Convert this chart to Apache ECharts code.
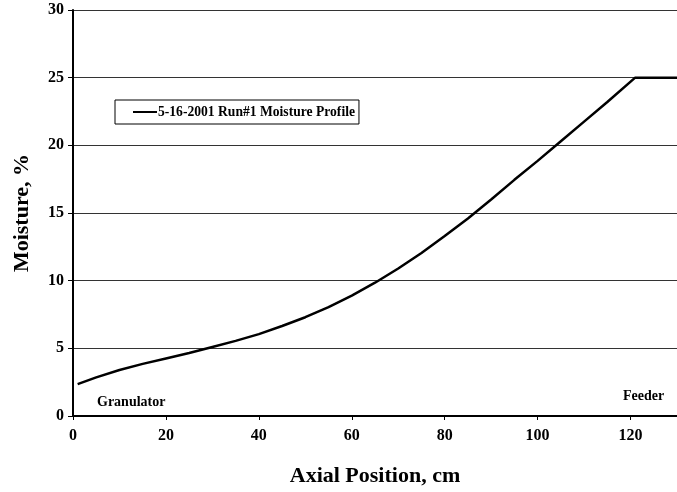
<!DOCTYPE html>
<html>
<head>
<meta charset="utf-8">
<script src="https://cdn.jsdelivr.net/npm/echarts@6/dist/echarts.min.js"></script>
<style>html,body{margin:0;padding:0;background:#fff;overflow:hidden;}#c{width:677px;height:492px;}</style>
</head>
<body>
<div id="c"></div>
<script>
const positions = [1, 5, 10, 15, 20, 25, 30, 35, 40, 45, 50, 55, 60, 65, 70, 75, 80, 85, 90, 95, 100, 105, 110, 115, 121, 130];
const moisture = [2.35, 2.85, 3.4, 3.85, 4.25, 4.65, 5.1, 5.55, 6.05, 6.65, 7.3, 8.05, 8.9, 9.85, 10.9, 12.05, 13.3, 14.6, 16.0, 17.45, 18.85, 20.3, 21.75, 23.2, 25, 25];
const seriesName = '5-16-2001 Run#1 Moisture Profile';
const xTitle = 'Axial Position, cm';
const yTitle = 'Moisture, %';
const leftNote = 'Granulator';
const rightNote = 'Feeder';

const serif = '"Liberation Serif", "Times New Roman", serif';
const chart = echarts.init(document.getElementById('c'), null, {renderer: 'canvas'});
chart.setOption({
  animation: false,
  backgroundColor: '#fff',
  grid: {left: 73, top: 10, width: 609, height: 409, containLabel: false},
  legend: {
    left: 115, top: 100,
    orient: 'horizontal',
    borderColor: '#000', borderWidth: 1,
    padding: [5, 4, 5, 18],
    icon: 'rect',
    itemWidth: 24, itemHeight: 2,
    itemGap: 0,
    itemStyle: {color: '#000'},
    textStyle: {fontFamily: serif, fontWeight: 'bold', fontSize: 13.6, color: '#000', lineHeight: 14, padding: [0, 0, 0, -4]},
    data: [seriesName]
  },
  xAxis: {
    type: 'value', min: 0, max: 130, interval: 20,
    name: xTitle, nameLocation: 'middle', nameGap: 49,
    nameTextStyle: {fontFamily: serif, fontWeight: 'bold', fontSize: 22, color: '#000'},
    axisLine: {show: true, lineStyle: {color: '#000', width: 2}},
    axisTick: {show: true, length: 4, lineStyle: {color: '#000', width: 1}},
    axisLabel: {fontFamily: serif, fontWeight: 'bold', fontSize: 16, color: '#000', margin: 12, showMaxLabel: false},
    splitLine: {show: false}
  },
  yAxis: {
    type: 'value', min: 0, max: 30, interval: 5,
    name: yTitle, nameLocation: 'middle', nameGap: 40, nameRotate: 90,
    nameTextStyle: {fontFamily: serif, fontWeight: 'bold', fontSize: 22, color: '#000'},
    axisLine: {show: true, lineStyle: {color: '#000', width: 2}},
    axisTick: {show: true, length: 5, lineStyle: {color: '#000', width: 1}},
    axisLabel: {fontFamily: serif, fontWeight: 'bold', fontSize: 16, color: '#000', margin: 9},
    splitLine: {show: true, lineStyle: {color: '#333', width: 1}}
  },
  graphic: [
    {type: 'text', left: 97, top: 395, style: {text: leftNote, font: 'bold 14px ' + serif, fill: '#000'}},
    {type: 'text', left: 623, top: 389, style: {text: rightNote, font: 'bold 14px ' + serif, fill: '#000'}}
  ],
  series: [{
    name: seriesName,
    type: 'line',
    data: positions.map((p, i) => [p, moisture[i]]),
    smooth: false,
    symbol: 'none',
    clip: true,
    lineStyle: {color: '#000', width: 2.5}
  }]
});
</script>
</body>
</html>
